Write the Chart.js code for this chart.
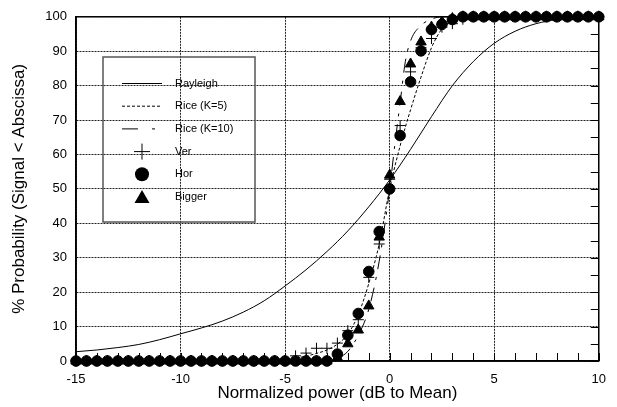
<!DOCTYPE html>
<html>
<head>
<meta charset="utf-8">
<script src="https://cdn.jsdelivr.net/npm/chart.js@4.4.1/dist/chart.umd.min.js"></script>
<style>
  body { margin: 0; background: #fff; }
  #wrap { width: 617px; height: 407px; }
</style>
</head>
<body>
<div id="wrap"><canvas id="grafico" width="617" height="407"></canvas></div>
<script>
// medidas (pontos a cada 0.5 dB)
var xMedidas = [-15,-14.5,-14,-13.5,-13,-12.5,-12,-11.5,-11,-10.5,-10,-9.5,-9,-8.5,-8,-7.5,-7,-6.5,-6,-5.5,-5,-4.5,-4,-3.5,-3,-2.5,-2,-1.5,-1,-0.5,0,0.5,1,1.5,2,2.5,3,3.5,4,4.5,5,5.5,6,6.5,7,7.5,8,8.5,9,9.5,10];
var verVals = [0,0,0,0,0,0,0,0,0,0,0,0,0,0,0,0,0,0,0,0,0,1.5,2.3,3.7,3.7,5.2,8.8,12,24.3,34,52.8,68.4,84,91,93.7,97,98,99.3,100,100,100,100,100,100,100,100,100,100,100,100,100];
var horVals = [0,0,0,0,0,0,0,0,0,0,0,0,0,0,0,0,0,0,0,0,0,0,0,0,0,2,7.5,13.8,26,37.6,50,65.5,81.1,90.1,96.3,97.8,99.2,100,100,100,100,100,100,100,100,100,100,100,100,100,100];
var biggerVals = [0,0,0,0,0,0,0,0,0,0,0,0,0,0,0,0,0,0,0,0,0,0,0,0,0,1,5,9,16,36,54,75.4,86.3,92.7,97,98.5,99.5,100,100,100,100,100,100,100,100,100,100,100,100,100,100];

// curvas teoricas
var rayX = [-15,-14,-13,-12,-11,-10,-9,-8,-7,-6,-5,-4,-3,-2,-1,0,1,2,3,4,5,6,7,8,9,10];
var rayY = [2.7,3.2,3.9,4.8,6.2,7.9,9.6,11.6,14.2,17.5,21.8,26.5,31.8,37.8,44.8,52.6,61.5,71,80,87,92.3,95.8,98,99.2,99.8,100];
var k5X = [-15,-6,-5,-4.5,-4,-3.5,-3,-2.5,-2,-1.5,-1,-0.5,0,0.5,1,1.5,2,2.5,3,3.5,4,10];
var k5Y = [0,0,0.3,0.8,1.4,2.2,3.2,4.9,7.8,13.5,22.5,34,50,62.5,73,82.5,91,96.5,99,99.8,100,100];
var k10X = [-15,-3,-2.5,-2,-1.5,-1,-0.5,0,0.25,0.5,0.75,1,1.5,2,2.5,10];
var k10Y = [0,0,0.8,2.8,7.5,15,29,50,63,75,87,93,97.5,99.3,100,100];

var xTicks = [-15, 10, 5];   // min, max, passo
var yTicks = [0, 100, 10];

function pares(xs, ys) {
    var r = [];
    for (var i = 0; i < xs.length; i++) r.push({x: xs[i], y: ys[i]});
    return r;
}

var legendaItens = [
    {texto: "Rayleigh", tipo: "linha", dash: []},
    {texto: "Rice (K=5)", tipo: "linha", dash: [3, 2]},
    {texto: "Rice (K=10)", tipo: "linha", dash: [16, 14, 3, 100]},
    {texto: "Ver", tipo: "mais"},
    {texto: "Hor", tipo: "circulo"},
    {texto: "Bigger", tipo: "triangulo"}
];

// moldura, tracinhos internos e legenda
const molduraPlugin = {
    id: "moldura",
    beforeDatasetsDraw(chart) {
        const ctx = chart.ctx, a = chart.chartArea;
        const sx = chart.scales.x, sy = chart.scales.y;
        ctx.save();
        ctx.strokeStyle = "#000";
        ctx.lineWidth = 1;
        for (var v = xTicks[0]; v <= xTicks[1]; v++) {
            var px = Math.round(sx.getPixelForValue(v)) + 0.5;
            ctx.beginPath(); ctx.moveTo(px, a.bottom); ctx.lineTo(px, a.bottom - 8); ctx.stroke();
        }
        for (var w = yTicks[0]; w <= yTicks[1]; w += 5) {
            var py = Math.round(sy.getPixelForValue(w)) + 0.5;
            ctx.beginPath(); ctx.moveTo(a.right, py); ctx.lineTo(a.right - 8, py); ctx.stroke();
        }
        ctx.lineWidth = 1.5;
        ctx.strokeRect(a.left, a.top, a.right - a.left, a.bottom - a.top);
        ctx.restore();
    },
    afterDraw(chart) {
        const ctx = chart.ctx;
        ctx.save();
        ctx.strokeStyle = "#555";
        ctx.lineWidth = 1.5;
        ctx.strokeRect(103, 57, 152, 165);
        ctx.font = "11px 'Liberation Sans', Arial, sans-serif";
        ctx.textBaseline = "middle";
        for (var i = 0; i < legendaItens.length; i++) {
            var it = legendaItens[i];
            var y = 83.5 + i * 22.7;
            ctx.fillStyle = "#000";
            ctx.strokeStyle = "#000";
            ctx.lineWidth = 1;
            if (it.tipo == "linha") {
                ctx.setLineDash(it.dash);
                ctx.beginPath(); ctx.moveTo(122, y); ctx.lineTo(162, y); ctx.stroke();
                ctx.setLineDash([]);
            } else if (it.tipo == "mais") {
                ctx.beginPath();
                ctx.moveTo(134, y); ctx.lineTo(150, y);
                ctx.moveTo(142, y - 8); ctx.lineTo(142, y + 8);
                ctx.stroke();
            } else if (it.tipo == "circulo") {
                ctx.beginPath(); ctx.arc(142, y, 7, 0, Math.PI * 2); ctx.fill();
            } else {
                ctx.beginPath();
                ctx.moveTo(142, y - 7); ctx.lineTo(149.5, y + 6); ctx.lineTo(134.5, y + 6);
                ctx.closePath(); ctx.fill();
            }
            ctx.fillStyle = "#000";
            ctx.fillText(it.texto, 175, y);
        }
        ctx.restore();
    }
};

const fonteTicks = {family: "'Liberation Sans', Arial, sans-serif", size: 13};
const fonteTitulo = {family: "'Liberation Sans', Arial, sans-serif", size: 17};

const config = {
    type: "scatter",
    data: {
        datasets: [
            {label: "Hor", data: pares(xMedidas, horVals), pointStyle: "circle", pointRadius: 5.3,
             backgroundColor: "#000", borderColor: "#000", borderWidth: 1, showLine: false, order: 0, clip: false},
            {label: "Ver", data: pares(xMedidas, verVals), pointStyle: "cross", pointRadius: 5.5,
             backgroundColor: "#000", borderColor: "#000", borderWidth: 1, showLine: false, order: 1, clip: false},
            {label: "Bigger", data: pares(xMedidas, biggerVals), pointStyle: "triangle", pointRadius: 6,
             backgroundColor: "#000", borderColor: "#000", borderWidth: 1, showLine: false, order: 2, clip: false},
            {label: "Rayleigh", data: pares(rayX, rayY), showLine: true, pointRadius: 0, borderColor: "#000",
             borderWidth: 1, cubicInterpolationMode: "monotone", order: 3},
            {label: "Rice (K=5)", data: pares(k5X, k5Y), showLine: true, pointRadius: 0, borderColor: "#000",
             borderWidth: 1, borderDash: [3, 2], cubicInterpolationMode: "monotone", order: 4},
            {label: "Rice (K=10)", data: pares(k10X, k10Y), showLine: true, pointRadius: 0, borderColor: "#000",
             borderWidth: 1, borderDash: [14, 8, 3, 8], cubicInterpolationMode: "monotone", order: 5}
        ]
    },
    options: {
        responsive: false,
        animation: false,
        layout: {padding: {top: 14, right: 6, left: 0, bottom: 0}},
        plugins: {legend: {display: false}, tooltip: {enabled: false}},
        scales: {
            x: {
                type: "linear", min: xTicks[0], max: xTicks[1],
                ticks: {stepSize: xTicks[2], color: "#000", font: fonteTicks, padding: 11, maxRotation: 0},
                grid: {color: "#222", lineWidth: 1, drawTicks: false},
                border: {display: true, color: "#000", width: 1.5, dash: [2, 1]},
                title: {display: true, text: "Normalized power (dB to Mean)", color: "#000", font: fonteTitulo, padding: {top: 0, bottom: 3}},
                afterFit: function (s) { s.height = 46; }
            },
            y: {
                type: "linear", min: yTicks[0], max: yTicks[1],
                ticks: {stepSize: yTicks[2], color: "#000", font: fonteTicks, padding: 9},
                grid: {color: "#222", lineWidth: 1, drawTicks: false},
                border: {display: true, color: "#000", width: 1.5, dash: [2, 1]},
                title: {display: true, text: "% Probability (Signal < Abscissa)", color: "#000", font: fonteTitulo, padding: {top: 9, bottom: 0}},
                afterFit: function (s) { s.width = 76; }
            }
        }
    },
    plugins: [molduraPlugin]
};

var grafico = new Chart(document.getElementById("grafico"), config);
</script>
</body>
</html>
